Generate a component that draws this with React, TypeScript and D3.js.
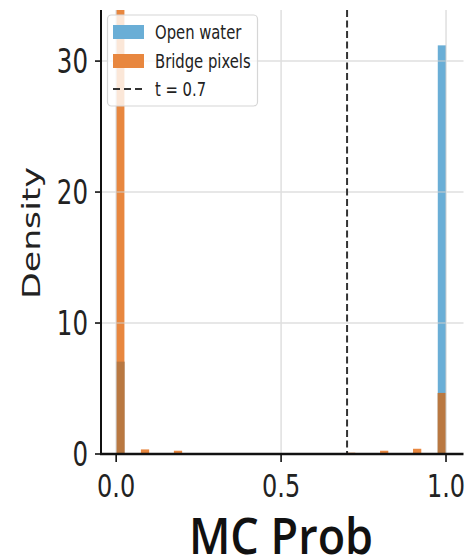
import * as d3 from "d3";

// histogram bins: 40 bins of width 0.025 over [0, 1]
const binEdges: number[] = d3.range(0, 40).map((i) => i * 0.025);
const binWidth = 0.025;

// density per bin; zero where nothing is visible
const openWater: number[] = [
  7.05, 0, 0, 0, 0, 0, 0, 0, 0, 0,
  0, 0, 0, 0, 0, 0, 0, 0, 0, 0,
  0, 0, 0, 0, 0, 0, 0, 0, 0, 0,
  0, 0, 0, 0, 0, 0, 0, 0, 0, 31.2,
];
const bridgePixels: number[] = [
  35.0, 0, 0, 0.35, 0, 0, 0, 0.25, 0, 0,
  0, 0, 0, 0, 0, 0, 0, 0, 0, 0,
  0, 0, 0, 0, 0, 0, 0, 0, 0.1, 0,
  0, 0, 0.25, 0, 0, 0, 0.4, 0, 0, 4.66,
];
const threshold = 0.7;

const xTicks = [0, 0.5, 1.0];
const yTicks = [0, 10, 20, 30];
const legendLabels = ["Open water", "Bridge pixels", "t = 0.7"];

const BLUE = "#6aaed6";
const ORANGE = "#e8873f";
const BROWN = "#b97841";

export default function App() {
  const width = 474;
  const height = 560;
  const x = d3.scaleLinear().domain([-0.046, 1.053]).range([101, 463.5]);
  const y = d3.scaleLinear().domain([0, 33.9]).range([454, 10]);
  const top = y.range()[1];
  const bottom = y.range()[0];
  const left = x.range()[0];
  const right = x.range()[1];
  const sy = 1.36; // the figure is stretched vertically

  const bw = (b: number) => x(b + binWidth) - x(b);
  const clipY = (v: number) => y(Math.min(v, y.domain()[1]));

  return (
    <svg width={width} height={height} style={{ position: "absolute", left: 0, top: 0 }}>
      <rect width={width} height={height} fill="#fff" />

      {/* bars */}
      <g>
        {binEdges.map((b, i) =>
          openWater[i] > 0 ? (
            <rect key={"b" + i} x={x(b)} width={bw(b)} y={clipY(openWater[i])}
              height={bottom - clipY(openWater[i])} fill={BLUE} />
          ) : null
        )}
        {binEdges.map((b, i) =>
          bridgePixels[i] > 0 ? (
            <rect key={"o" + i} x={x(b)} width={bw(b)} y={clipY(bridgePixels[i])}
              height={bottom - clipY(bridgePixels[i])} fill={ORANGE} />
          ) : null
        )}
        {binEdges.map((b, i) => {
          const m = Math.min(openWater[i], bridgePixels[i]);
          return m > 0 ? (
            <rect key={"m" + i} x={x(b)} width={bw(b)} y={clipY(m)}
              height={bottom - clipY(m)} fill={BROWN} />
          ) : null;
        })}
      </g>

      {/* grid */}
      <g stroke="#cfcfcf" strokeWidth={1.5} opacity={0.65}>
        {xTicks.map((t) => (
          <line key={"gx" + t} x1={x(t)} x2={x(t)} y1={top} y2={bottom} />
        ))}
        {yTicks.filter((t) => t > 0).map((t) => (
          <line key={"gy" + t} x1={left} x2={right} y1={y(t)} y2={y(t)} />
        ))}
      </g>

      {/* threshold */}
      <line x1={x(threshold)} x2={x(threshold)} y1={top} y2={bottom}
        stroke="#333" strokeWidth={2} strokeDasharray="7,3.5" />

      {/* spines */}
      <line x1={left} x2={left} y1={top} y2={bottom + 1} stroke="#111" strokeWidth={2} />
      <line x1={left - 1} x2={right} y1={bottom} y2={bottom} stroke="#111" strokeWidth={2.6} />

      {/* y ticks */}
      <g fontFamily="DejaVu Sans" fontSize={24.5} fill="#222">
        {yTicks.map((t) => (
          <g key={"yt" + t}>
            <line x1={left - 6} x2={left} y1={y(t)} y2={y(t)} stroke="#111" strokeWidth={1.6} />
            <text transform={`translate(${left - 13},${y(t)}) scale(1,${sy})`} textAnchor="end"
              dy="0.36em">{t}</text>
          </g>
        ))}
      </g>

      {/* x ticks */}
      <g fontFamily="DejaVu Sans" fontSize={24} fill="#222">
        {xTicks.map((t) => (
          <g key={"xt" + t}>
            <line x1={x(t)} x2={x(t)} y1={bottom} y2={bottom + 8} stroke="#111" strokeWidth={1.6} />
            <text transform={`translate(${x(t)},${bottom + 43}) scale(1,${sy})`} textAnchor="middle">
              {d3.format(".1f")(t)}
            </text>
          </g>
        ))}
      </g>

      {/* axis labels */}
      <text transform={`translate(40,233) rotate(-90) scale(${sy},1)`} textAnchor="middle"
        fontFamily="DejaVu Sans" fontSize={25.5} fill="#222">Density</text>
      <text transform={`translate(281,554) scale(1,1.12)`} textAnchor="middle"
        fontFamily="Open Sans" fontWeight={600} fontSize={45} fill="#111">MC Prob</text>

      {/* legend */}
      <g>
        <rect x={107.5} y={15} width={150} height={91} rx={4} fill="#fff" fillOpacity={0.8}
          stroke="#d6d6d6" strokeWidth={1.2} />
        <rect x={113} y={25} width={31} height={14} fill={BLUE} />
        <rect x={113} y={54} width={31} height={14} fill={ORANGE} />
        <line x1={113} x2={144} y1={89} y2={89} stroke="#333" strokeWidth={2} strokeDasharray="7,4" />
        {legendLabels.map((l, i) => (
          <text key={l} transform={`translate(155,${39 + i * 28.5}) scale(1,${sy})`}
            fontFamily="DejaVu Sans" fontSize={14.8} fill="#222">{l}</text>
        ))}
      </g>
    </svg>
  );
}
